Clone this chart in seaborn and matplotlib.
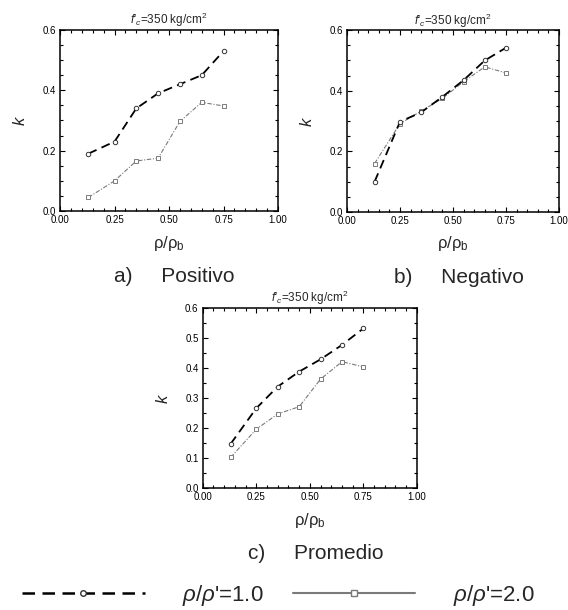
import matplotlib
matplotlib.use("Agg")
import matplotlib.pyplot as plt
from matplotlib.lines import Line2D
from matplotlib.ticker import MultipleLocator
import seaborn as sns
import pandas as pd

sns.set_style("ticks")
plt.rcParams['font.family'] = ['Liberation Sans', 'DejaVu Sans']
plt.rcParams['mathtext.fontset'] = 'custom'
plt.rcParams['mathtext.rm'] = 'Liberation Sans'
plt.rcParams['mathtext.it'] = 'Liberation Sans:italic'

# ratio rho/rho_b (same for every panel)
rho_ratio = [0.13, 0.25, 0.35, 0.45, 0.55, 0.65, 0.75]

# k values, rho/rho' = 1.0 and 2.0
pos_r1 = [0.19, 0.23, 0.34, 0.39, 0.42, 0.45, 0.53]
pos_r2 = [0.045, 0.10, 0.166, 0.175, 0.297, 0.36, 0.348]
neg_r1 = [0.10, 0.298, 0.329, 0.38, 0.435, 0.50, 0.542]
neg_r2 = [0.16, 0.292, 0.333, 0.375, 0.43, 0.479, 0.459]
avg_r1 = [0.147, 0.266, 0.338, 0.388, 0.429, 0.477, 0.532]
avg_r2 = [0.102, 0.196, 0.247, 0.271, 0.363, 0.421, 0.404]

series_labels = [r"$\rho/\rho$'=1.0", r"$\rho/\rho$'=2.0"]
captions = ["a)     Positivo", "b)     Negativo", "c)     Promedio"]
title = r"$f$'$_{c}$=350 kg/cm$^2$"

DASH1 = (0, (5, 3))
DASH2 = (0, (4, 1.5, 1, 1.5))
GRAY = "#7a7a7a"

fig = plt.figure(figsize=(5.68, 6.10), dpi=100)

panels = [
    (pos_r1, pos_r2, [0.1056, 0.654, 0.384, 0.297], 0.2),
    (neg_r1, neg_r2, [0.611, 0.6525, 0.373, 0.298], 0.2),
    (avg_r1, avg_r2, [0.357, 0.200, 0.377, 0.295], 0.1),
]

for (r1, r2, pos, ystep), cap in zip(panels, captions):
    ax = fig.add_axes(pos)
    df1 = pd.DataFrame({"x": rho_ratio, "k": r1})
    df2 = pd.DataFrame({"x": rho_ratio, "k": r2})
    sns.lineplot(data=df2, x="x", y="k", ax=ax, color=GRAY, linewidth=0.8,
                 linestyle=DASH2, marker="s", markersize=3.5,
                 markerfacecolor="white", markeredgecolor=GRAY,
                 markeredgewidth=0.7)
    sns.lineplot(data=df1, x="x", y="k", ax=ax, color="black", linewidth=1.3,
                 linestyle=DASH1, marker="o", markersize=3.2,
                 markerfacecolor="white", markeredgecolor="#333333",
                 markeredgewidth=0.7)
    ax.set_xlim(0, 1)
    ax.set_ylim(0, 0.6)
    ax.xaxis.set_major_locator(MultipleLocator(0.25))
    ax.xaxis.set_minor_locator(MultipleLocator(0.05))
    ax.yaxis.set_major_locator(MultipleLocator(ystep))
    ax.yaxis.set_minor_locator(MultipleLocator(0.05))
    ax.xaxis.set_major_formatter(plt.FormatStrFormatter("%.2f"))
    ax.yaxis.set_major_formatter(plt.FormatStrFormatter("%.1f"))
    ax.tick_params(which="both", direction="in", top=True, right=True,
                   labelsize=7, width=0.8, colors="black", pad=3)
    ax.tick_params(which="major", length=3.5)
    ax.tick_params(which="minor", length=2)
    for sp in ax.spines.values():
        sp.set_linewidth(1.1)
        sp.set_color("black")
    ax.set_title(title, fontsize=8.5, pad=4)
    ax.set_xlabel(r"ρ/ρ$_\mathregular{b}$", fontsize=12, labelpad=6)
    ax.set_ylabel(r"$k$", fontsize=12, labelpad=10)
    cx = pos[0] + pos[2] * 0.5 + 0.01
    fig.text(cx, pos[1] - 0.108, cap, fontsize=15, ha="center", va="center")

handles = [
    Line2D([], [], color="black", linewidth=1.8, linestyle=DASH1, marker="o",
           markersize=4, markerfacecolor="white", markeredgecolor="#333333"),
    Line2D([], [], color=GRAY, linewidth=1.5, linestyle="-", marker="s",
           markersize=4, markerfacecolor="white", markeredgecolor=GRAY),
]
fig.legend(handles, series_labels, loc="center", bbox_to_anchor=(0.49, 0.024),
           ncol=2, frameon=False, fontsize=16, handlelength=5.5,
           columnspacing=1.3, handletextpad=1.7)

fig.savefig("out.png", dpi=100)
